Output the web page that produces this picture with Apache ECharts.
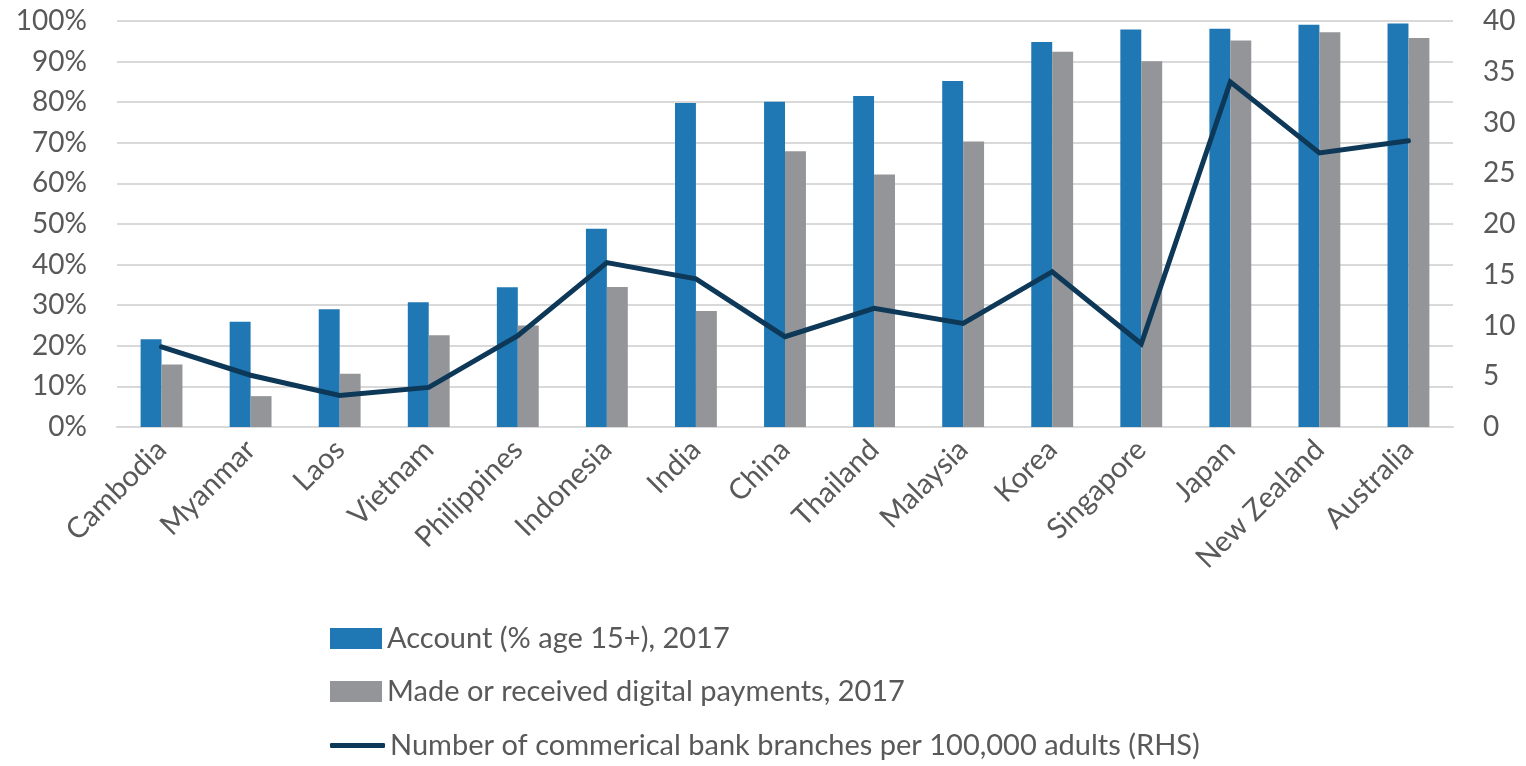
<!DOCTYPE html>
<html>
<head>
<meta charset="utf-8">
<style>
  html, body { margin: 0; padding: 0; background: #fff; }
  #chart { width: 1526px; height: 766px; }
</style>
<script src="https://cdn.jsdelivr.net/npm/echarts@6/dist/echarts.min.js"></script>
</head>
<body>
<div id="chart"></div>
<script>
// Countries, left to right
const countries = ['Cambodia', 'Myanmar', 'Laos', 'Vietnam', 'Philippines', 'Indonesia', 'India',
  'China', 'Thailand', 'Malaysia', 'Korea', 'Singapore', 'Japan', 'New Zealand', 'Australia'];

// Account ownership, % of population aged 15+, 2017
const accountShare = [21.6, 25.9, 29.0, 30.7, 34.4, 48.8, 79.8, 80.1, 81.5, 85.2, 94.8, 97.9, 98.1, 99.1, 99.4];

// Made or received digital payments, %, 2017
const digitalPayments = [15.4, 7.6, 13.1, 22.6, 25.0, 34.5, 28.6, 67.9, 62.2, 70.3, 92.4, 90.1, 95.2, 97.2, 95.8];

// Commercial bank branches per 100,000 adults (right-hand scale)
const bankBranches = [7.9, 5.1, 3.1, 3.9, 9.0, 16.2, 14.6, 8.9, 11.7, 10.2, 15.3, 8.2, 34.0, 27.0, 28.2];

const seriesNames = [
  'Account (% age 15+), 2017',
  'Made or received digital payments, 2017',
  'Number of commerical bank branches per 100,000 adults (RHS)'
];

const FONT = 'Lato';
const TEXT = '#595959';
const BLUE = '#1f78b4';
const GREY = '#939598';
const NAVY = '#0d3858';

// One legend block per row so the three entries stack in a single column
function legendRow(name, top, icon, itemHeight, itemWidth) {
  return {
    left: 330,
    top: top,
    orient: 'vertical',
    itemWidth: itemWidth,
    itemHeight: itemHeight,
    padding: 0,
    textStyle: { fontFamily: FONT, fontSize: 29, color: TEXT },
    data: [{ name: name, icon: icon }]
  };
}

const chart = echarts.init(document.getElementById('chart'), null, { renderer: 'canvas' });

chart.setOption({
  animation: false,
  textStyle: { fontFamily: FONT },
  grid: { left: 117, right: 73, top: 21, bottom: 339, containLabel: false },
  legend: [
    legendRow(seriesNames[0], 624, 'rect', 21, 52),
    legendRow(seriesNames[1], 677, 'rect', 21, 52),
    legendRow(seriesNames[2], 731, 'roundRect', 5, 55)
  ],
  xAxis: {
    type: 'category',
    data: countries,
    axisTick: { show: false },
    axisLine: { show: true, lineStyle: { color: '#d9d9d9', width: 2 } },
    axisLabel: {
      rotate: 45,
      interval: 0,
      margin: 18,
      fontFamily: FONT,
      fontSize: 29,
      color: TEXT
    }
  },
  yAxis: [
    {
      type: 'value',
      min: 0,
      max: 100,
      interval: 10,
      axisLine: { show: false },
      axisTick: { show: false },
      axisLabel: { formatter: '{value}%', margin: 30, fontFamily: FONT, fontSize: 28, color: TEXT },
      splitLine: { lineStyle: { color: '#d9d9d9', width: 2 } }
    },
    {
      type: 'value',
      min: 0,
      max: 40,
      interval: 5,
      axisLine: { show: false },
      axisTick: { show: false },
      axisLabel: { margin: 30, fontFamily: FONT, fontSize: 28, color: TEXT, align: 'left' },
      splitLine: { show: false }
    }
  ],
  series: [
    {
      name: seriesNames[0],
      type: 'bar',
      data: accountShare,
      yAxisIndex: 0,
      barGap: '0%',
      barCategoryGap: '53%',
      itemStyle: { color: BLUE }
    },
    {
      name: seriesNames[1],
      type: 'bar',
      data: digitalPayments,
      yAxisIndex: 0,
      barGap: '0%',
      barCategoryGap: '53%',
      itemStyle: { color: GREY }
    },
    {
      name: seriesNames[2],
      type: 'line',
      data: bankBranches,
      yAxisIndex: 1,
      symbol: 'none',
      smooth: false,
      z: 5,
      lineStyle: { color: NAVY, width: 5, cap: 'round', join: 'miter' },
      itemStyle: { color: NAVY }
    }
  ]
});
</script>
</body>
</html>
